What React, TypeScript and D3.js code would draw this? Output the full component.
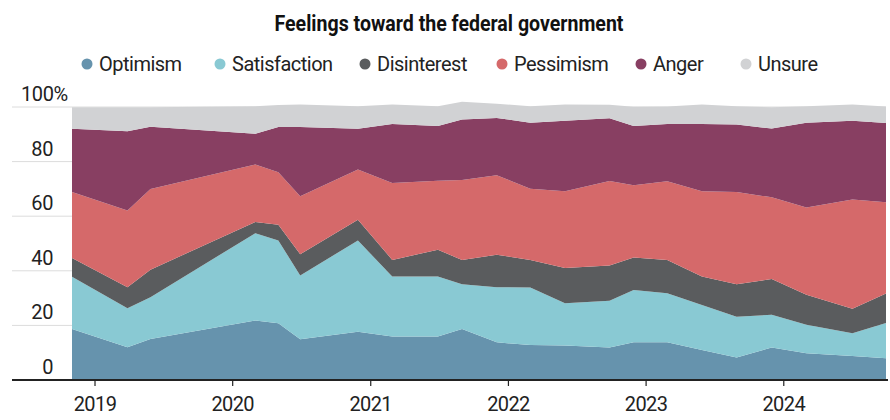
import React from "react";
import * as d3 from "d3";

const dates = [
  "2018-11-01", "2019-03-28", "2019-05-28", "2020-03-01", "2020-05-01", "2020-06-28",
  "2020-11-28", "2021-02-27", "2021-06-28", "2021-08-31", "2021-12-01", "2022-02-28",
  "2022-05-31", "2022-09-26", "2022-11-29", "2023-02-26", "2023-05-29", "2023-08-29",
  "2023-11-30", "2024-03-01", "2024-07-01", "2024-09-28",
];

const optimism = [18.7, 12, 15, 21.8, 20.8, 14.9, 17.7, 15.9, 15.9, 18.7, 13.8, 12.8, 12.6, 11.9, 13.8, 13.8, 11, 8.2, 11.9, 9.8, 8.8, 8];
const satisfaction = [19.1, 14.3, 15.3, 32, 30.3, 23.4, 33.4, 22, 22, 16.4, 20.2, 21.1, 15.5, 17.1, 19.2, 18, 16.5, 15, 12, 10.4, 8.3, 12.9];
const disinterest = [6.9, 7.7, 10.1, 4.1, 5.8, 7.8, 7.6, 6.1, 9.8, 8.9, 11.9, 10.1, 12.9, 12.9, 11.9, 12.2, 10.4, 11.9, 13.1, 11, 9, 10.8];
const pessimism = [24.2, 28.1, 29.6, 21, 19.2, 21.2, 18.4, 28.2, 25.3, 29.3, 29.1, 26.1, 28.1, 31, 26.4, 28.8, 31.2, 33.8, 29.9, 32, 40, 33.4];
const anger = [23.1, 29, 22.8, 11.3, 16.6, 25.4, 14.9, 21.6, 20, 22.1, 21, 24.1, 25.9, 23, 21.7, 21, 24.7, 24.7, 25.2, 31, 28.9, 29];
const unsure = [7.9, 8.8, 7.1, 10.1, 8, 8.2, 8.3, 7.1, 7.3, 6.5, 5.2, 6.1, 5.9, 4.9, 7.1, 6.4, 7.1, 6.7, 7.8, 6.1, 5.9, 6.1];

const seriesNames = ["Optimism", "Satisfaction", "Disinterest", "Pessimism", "Anger", "Unsure"];
const seriesColors = ["#6693ad", "#89c9d3", "#5a5c5e", "#d5696a", "#883f62", "#d1d2d4"];
const yTicks = [0, 20, 40, 60, 80, 100];
const xTickYears = [2019, 2020, 2021, 2022, 2023, 2024];

const W = 890;
const H = 420;
const FONT = "Roboto, 'Open Sans', sans-serif";

export default function App() {
  const parse = d3.timeParse("%Y-%m-%d");
  const seriesValues = [optimism, satisfaction, disinterest, pessimism, anger, unsure];
  const rows = dates.map((d, i) => {
    const r: any = { date: parse(d) };
    seriesNames.forEach((n, k) => (r[n] = seriesValues[k][i]));
    return r;
  });

  const x = d3
    .scaleTime()
    .domain([parse(dates[0])!, parse(dates[dates.length - 1])!])
    .range([72, 886]);
  const y = d3.scaleLinear().domain([0, 100]).range([380, 107]);

  const stacked = d3.stack().keys(seriesNames)(rows);
  const area = d3
    .area<any>()
    .x((d) => x(d.data.date))
    .y0((d) => y(d[0]))
    .y1((d) => y(d[1]))
    .curve(d3.curveLinear);

  const legendX = [87, 220, 365, 502, 641, 746];

  return (
    <svg
      width={W}
      height={H}
      viewBox={`0 0 ${W} ${H}`}
      style={{ position: "absolute", left: 0, top: 0, background: "#fff" }}
      fontFamily={FONT}
    >
      <text
        x={449}
        y={31}
        textAnchor="middle"
        fontSize={22}
        fontWeight={700}
        fill="#111"
        textLength={349}
        lengthAdjust="spacingAndGlyphs"
      >
        Feelings toward the federal government
      </text>

      {seriesNames.map((n, i) => (
        <g key={n}>
          <circle cx={legendX[i]} cy={64} r={5.5} fill={seriesColors[i]} />
          <text x={legendX[i] + 12} y={71} fontSize={20} letterSpacing={-0.5} fill="#222">
            {n}
          </text>
        </g>
      ))}

      {yTicks.map((t) => (
        <line key={"g" + t} x1={12} x2={886} y1={y(t)} y2={y(t)} stroke="#dcdcdc" strokeWidth={1} />
      ))}

      {stacked.map((s, i) => (
        <path key={s.key} d={area(s as any) || ""} fill={seriesColors[i]} />
      ))}

      {yTicks.map((t) => (
        <text
          key={"l" + t}
          x={t === 100 ? 21 : 53}
          y={y(t) - 6}
          textAnchor={t === 100 ? "start" : "end"}
          fontSize={20}
          letterSpacing={-0.4}
          fill="#222"
        >
          {t === 100 ? "100%" : t}
        </text>
      ))}

      <line x1={12} x2={888} y1={380} y2={380} stroke="#222" strokeWidth={2} />

      {xTickYears.map((yr) => {
        const px = x(new Date(yr, 0, 1));
        return (
          <g key={yr}>
            <line x1={px} x2={px} y1={380} y2={386} stroke="#222" strokeWidth={1.2} />
            <text x={px} y={411} textAnchor="middle" fontSize={20} letterSpacing={-0.6} fill="#222">
              {yr}
            </text>
          </g>
        );
      })}
    </svg>
  );
}
